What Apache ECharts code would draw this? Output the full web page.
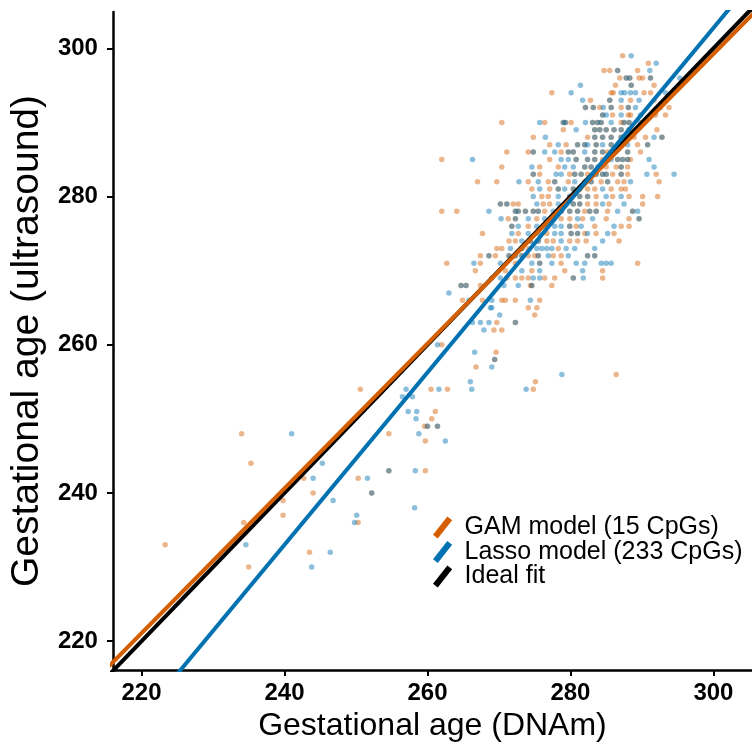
<!DOCTYPE html>
<html>
<head>
<meta charset="utf-8">
<script src="https://cdn.jsdelivr.net/npm/echarts@6/dist/echarts.min.js"></script>
<style>html,body{margin:0;padding:0;background:#fff}#c{width:752px;height:747px}</style>
</head>
<body>
<div id="c"></div>
<script>
// Tick labels
const tickValues = [220, 240, 260, 280, 300];
const xAxisTitle = 'Gestational age (DNAm)';
const yAxisTitle = 'Gestational age (ultrasound)';
const legendNames = ['GAM model (15 CpGs)', 'Lasso model (233 CpGs)', 'Ideal fit'];

// Scatter rows: [ultrasound age, [DNAm predicted ages]]
const gamRows = [
  [299,[287.3]],[298,[290.9]],[297,[284.7,285.5,286.6,289.4]],
  [296,[286.9,287.8,288.3,289.6,290.1,291.2]],[295,[286.3,288.5,291.7]],
  [294,[277.4,285.7,286.0,290.3,291.2]],[293,[282.8,285.5,288.4,291.7]],
  [292,[282.1,283.2,284.1,285.7,287.1,288.1,292.6,293.8]],
  [291,[284.5,285.9,288.1,288.4,291.2,291.9,293.3]],
  [290,[270.4,276.4,279.0,279.3,280.1,283.1,283.8,284.3,287.1,287.5,288.2]],
  [289,[279.0,283.4,284.1,285.0,286.1,287.1,288.2,289.0,292.1]],
  [288,[274.8,282.4,283.4,284.5,285.7,287.1,288.9,290.5,292.8]],
  [287,[277.1,279.4,281.0,282.0,283.6,285.7,287.1,289.4,290.8]],
  [286,[271.1,274.1,274.8,278.7,279.7,280.4,283.4,284.5,285.2,286.1,288.0,289.8]],
  [285,[262.0,277.1,280.8,282.4,283.4,284.5,286.6,287.3,288.0,288.4]],
  [284,[270.4,275.7,278.3,282.0,282.9,285.0,286.4,287.1,288.0]],
  [283,[274.8,275.7,279.9,280.6,281.5,282.4,283.6,284.5,285.0,285.9,287.1,288.0,292.0]],
  [282,[267.0,269.7,274.1,276.9,277.8,279.7,282.0,282.9,284.3,285.2,286.6,287.5,292.4]],
  [281,[274.6,277.1,278.3,280.4,281.3,282.4,283.4,285.7,287.1,287.7]],
  [280,[276.0,276.9,279.9,281.3,282.4,283.6,285.9,288.2,290.1,292.2]],
  [279,[270.2,271.1,272.0,272.7,276.2,277.1,279.2,280.4,281.3,282.4,283.6,285.4,290.1]],
  [278,[262.0,264.1,272.3,272.7,273.7,274.8,275.5,276.4,278.7,279.9,281.0,282.0,282.7,283.6,285.2,288.7]],
  [277,[271.3,272.3,275.3,277.6,278.7,279.9,281.7,285.0,288.2,289.6]],
  [276,[271.8,274.1,276.7,279.9,280.8,283.4,287.1,288.2]],
  [275,[267.7,272.7,276.7,280.1,281.0,282.0,283.6,286.1]],
  [274,[271.4,272.3,274.4,275.5,276.7,277.6,279.9,281.0,282.2,286.8]],
  [273,[269.7,270.4,273.2,274.1,278.3]],
  [272,[267.4,268.6,269.5,271.4,272.3,273.2,274.1,275.0,275.5,277.6,278.7,282.4,283.4]],
  [271,[262.7,267.4,272.3,275.7,278.7,289.4]],
  [270,[266.7,270.9,274.6,279.2,284.5]],
  [269,[269.0,271.1,272.3,273.2,274.1,276.4,277.8,280.4,284.5]],
  [268,[264.7,265.4,267.4,274.4,274.6,277.4]],
  [266,[264.9,267.7,270.4,270.9,272.3,275.7]],
  [265,[274.1,275.3]],[264,[275.0]],[263,[269.7,272.3]],[262,[269.3,270.4]],
  [260,[262.0]],[259,[269.6]],[258,[269.4]],[257,[266.8]],[256,[286.4]],[255,[275.1]],
  [254,[250.6,260.5,262.8,274.8]],[251,[261.1]],[250,[260.6]],[249,[259.6,260.0,261.4]],
  [248,[234.0,254.6]],[247,[259.7]],[244,[235.3]],[243,[254.6,259.7]],[242,[242.7,250.3]],
  [240,[244.0,252.2]],[239,[239.8]],[237,[239.8]],[236,[234.3,250.3]],[233,[223.3]],
  [232,[243.5]],[230,[235.0]]
];
const lassoRows = [
  [299,[288.5]],[298,[292.0]],[297,[286.6,291.1]],[296,[287.8,288.3,291.2,295.3]],
  [295,[281.4,288.5]],[294,[280.1,287.1,287.6,288.4,289.1,293.3]],
  [293,[281.7,285.5,287.1,289.6]],[292,[282.1,283.2,284.6,285.7,288.1,289.1]],
  [291,[284.5,285.0,287.1,289.8]],
  [290,[275.7,279.0,279.3,282.1,283.1,283.8,284.3,285.7,287.5,288.2,289.8]],
  [289,[280.8,283.4,284.1,285.0,286.1,287.1,288.2]],
  [288,[276.5,283.4,284.5,285.7,287.1,291.7,292.8]],
  [287,[278.3,281.0,282.0,282.4,283.6,284.5,285.7,288.0,290.8]],
  [286,[274.8,276.4,277.8,279.7,280.4,282.0,283.4,284.5,288.0]],
  [285,[266.3,278.7,279.7,280.8,282.4,283.4,285.7,286.6,287.3,288.0,291.0]],
  [284,[274.6,279.2,280.4,282.0,282.9,283.8,287.1,291.7]],
  [283,[274.8,278.0,278.7,280.6,281.5,283.6,284.5,285.0,287.1,290.7,294.5]],
  [282,[272.8,275.5,277.8,280.6,282.9,285.2,288.4]],
  [281,[275.7,278.3,279.2,280.4,281.3,284.5]],
  [280,[274.8,278.3,279.9,281.3,282.4,285.0,287.1]],
  [279,[270.2,271.1,275.3,278.3,279.2,280.4,281.3,284.5,287.5]],
  [278,[268.6,272.3,272.7,273.7,274.8,275.5,277.6,278.7,279.9,281.0,282.7,283.6,286.6,288.7,289.4]],
  [277,[270.3,272.3,274.1,276.4,277.6,281.0,283.1,289.6]],
  [276,[271.8,272.7,275.3,277.8,278.7,279.9,281.5,286.1]],
  [275,[271.8,274.1,275.5,277.8,278.7,280.1,281.0,282.4,285.2]],
  [274,[273.2,274.4,275.5,278.7,284.5]],
  [273,[271.6,273.2,275.3,276.0,276.7,277.4,279.4,280.6,283.4]],
  [272,[268.6,271.4,272.3,273.2,275.5,276.9,279.7,282.4,283.4]],
  [271,[266.5,270.2,274.6,275.7,277.4,280.8,282.0,284.3,285.0,285.7]],
  [270,[273.2,275.7,281.7]],[269,[270.2,274.8,275.7,280.4,281.8]],
  [268,[264.7,265.4,270.7,272.7,274.6]],[267,[263.0]],[266,[265.8,269.0,274.4]],
  [265,[268.8,269.0]],[264,[270.1]],[263,[266.3,267.4,268.6,272.3]],[262,[267.9]],
  [260,[261.4]],[259,[266.6]],[258,[269.4]],[257,[269.0]],[256,[278.8]],[255,[266.0]],
  [254,[257.0,261.6,266.2,273.8]],[253,[256.5,257.9]],[251,[257.3,258.5]],[250,[258.4]],
  [249,[260.0,261.4]],[248,[241.0,258.8]],[247,[262.5]],[244,[245.3]],[243,[254.6,258.3]],
  [242,[244.0,251.6]],[240,[252.2]],[239,[246.8]],[238,[258.2]],[237,[250.1]],[236,[249.8]],
  [233,[234.6]],[232,[246.4]],[230,[243.8]]
];

// Fitted lines (end points)
const gamLine = [[215, 216.2], [306, 305.1]];
const lassoLine = [[224.5, 215], [302.8, 306]];
const idealLine = [[215, 215], [306, 306]];

function toPoints(rows) {
  const out = [];
  rows.forEach(r => r[1].forEach(x => out.push([x, r[0]])));
  return out;
}

const ORANGE = '#D55E00', BLUE = '#0072B2', BLACK = '#000000';
const FONT = 'Liberation Sans';
const slashIcon = 'path://M0,19 L15,0 L20,4 L5,23 Z';

const chart = echarts.init(document.getElementById('c'), null, {renderer: 'canvas'});
const axisCommon = {
  type: 'value',
  axisLine: {show: true, onZero: false, lineStyle: {color: BLACK, width: 2.5}},
  axisTick: {show: true, length: 6, lineStyle: {color: BLACK, width: 2}, customValues: tickValues},
  axisLabel: {color: BLACK, fontFamily: FONT, fontWeight: 'bold', fontSize: 24, customValues: tickValues},
  splitLine: {show: false},
  nameLocation: 'middle',
  nameTextStyle: {color: BLACK, fontFamily: FONT}
};
chart.setOption({
  animation: false,
  backgroundColor: '#fff',
  grid: {left: 107, right: 0, top: 12, bottom: 76, containLabel: false},
  xAxis: Object.assign({}, axisCommon, {
    min: 216, max: 305.4,
    name: xAxisTitle, nameGap: 30,
    axisLabel: Object.assign({}, axisCommon.axisLabel, {margin: 11}),
    nameTextStyle: {color: BLACK, fontFamily: FONT, fontSize: 32}
  }),
  yAxis: Object.assign({}, axisCommon, {
    min: 216.1, max: 304.9,
    name: yAxisTitle, nameGap: 64,
    axisLabel: Object.assign({}, axisCommon.axisLabel, {margin: 15}),
    nameTextStyle: {color: BLACK, fontFamily: FONT, fontSize: 39}
  }),
  legend: {
    data: legendNames.map(n => ({name: n, icon: slashIcon})),
    orient: 'vertical', left: 428, top: 510,
    itemWidth: 20, itemHeight: 22, itemGap: -0.5,
    textStyle: {color: BLACK, fontFamily: FONT, fontSize: 25, lineHeight: 22, padding: [0, 0, 0, 7]},
    selectedMode: false
  },
  series: [
    {type: 'scatter', name: 'GAM points', data: toPoints(gamRows), symbolSize: 5.5,
     itemStyle: {color: ORANGE, opacity: 0.45}, silent: true},
    {type: 'scatter', name: 'Lasso points', data: toPoints(lassoRows), symbolSize: 5.5,
     itemStyle: {color: BLUE, opacity: 0.45}, silent: true},
    {type: 'line', name: legendNames[2], data: idealLine, showSymbol: false, symbol: 'none',
     lineStyle: {color: BLACK, width: 4}, itemStyle: {color: BLACK}, clip: true},
    {type: 'line', name: legendNames[0], data: gamLine, showSymbol: false, symbol: 'none',
     lineStyle: {color: ORANGE, width: 4}, itemStyle: {color: ORANGE}, clip: true},
    {type: 'line', name: legendNames[1], data: lassoLine, showSymbol: false, symbol: 'none',
     lineStyle: {color: BLUE, width: 4}, itemStyle: {color: BLUE}, clip: true}
  ]
});
</script>
</body>
</html>
